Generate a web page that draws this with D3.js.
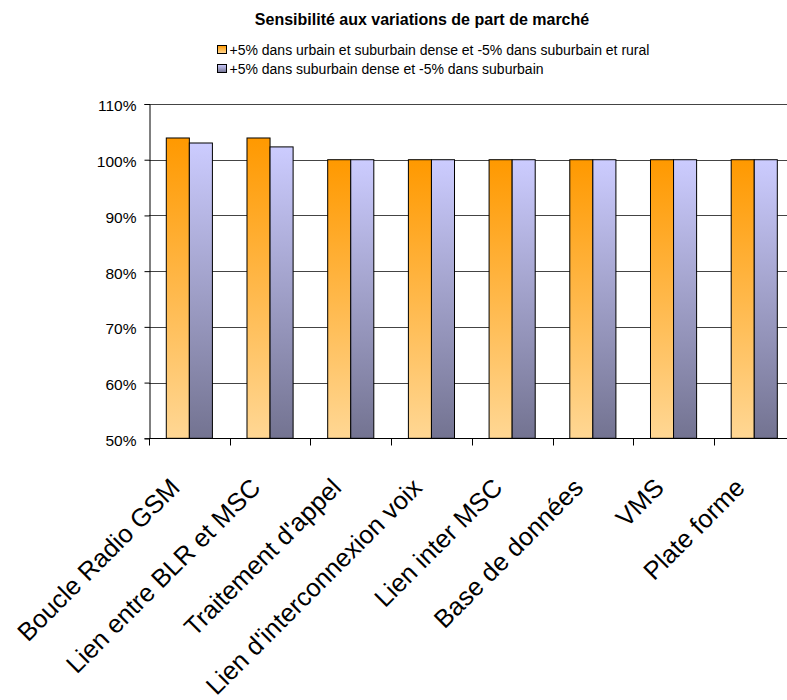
<!DOCTYPE html>
<html>
<head>
<meta charset="utf-8">
<script src="https://cdn.jsdelivr.net/npm/d3@7"></script>
<style>
  html, body { margin: 0; padding: 0; background: #fff; overflow: hidden; }
  svg { display: block; font-family: Arial, "Liberation Sans", sans-serif; }
</style>
</head>
<body>
<svg id="chart" width="787" height="700"></svg>
<script>
// Categories of the network cost model
const categories = [
  "Boucle Radio GSM",
  "Lien entre BLR et MSC",
  "Traitement d'appel",
  "Lien d'interconnexion voix",
  "Lien inter MSC",
  "Base de données",
  "VMS",
  "Plate forme"
];

// Series names
const seriesNames = [
  "+5% dans urbain et suburbain dense et -5% dans suburbain et rural",
  "+5% dans suburbain dense et -5% dans suburbain"
];

// Relative cost for each scenario (1 = 100%)
const seriesUrbain = [1.039, 1.039, 1.0, 1.0, 1.0, 1.0, 1.0, 1.0];
const seriesSuburbain = [1.030, 1.023, 1.0, 1.0, 1.0, 1.0, 1.0, 1.0];

// Y axis ticks
const yTicks = [0.5, 0.6, 0.7, 0.8, 0.9, 1.0, 1.1];

const title = "Sensibilité aux variations de part de marché";

const svg = d3.select("#chart");

const plot = { left: 149, right: 794.6, top: 104, bottom: 438.3 };

const x = d3.scaleBand()
  .domain(categories)
  .range([plot.left, plot.right])
  .paddingInner(0)
  .paddingOuter(0);

// two bars per band with a 150% gap width
const barW = x.bandwidth() / 3.5;
const xs = d3.scaleBand()
  .domain([0, 1])
  .range([x.bandwidth() * 0.75 / 3.5, x.bandwidth() * 0.75 / 3.5 + 2 * barW]);

const y = d3.scaleLinear().domain([0.5, 1.1]).range([plot.bottom, plot.top]);

// vertical gradients for the two series
const defs = svg.append("defs");
const gOrange = defs.append("linearGradient").attr("id", "gradOrange")
  .attr("x1", 0).attr("y1", 0).attr("x2", 0).attr("y2", 1);
gOrange.append("stop").attr("offset", "0%").attr("stop-color", "#ff9900");
gOrange.append("stop").attr("offset", "100%").attr("stop-color", "#ffd794");
const gBlue = defs.append("linearGradient").attr("id", "gradBlue")
  .attr("x1", 0).attr("y1", 0).attr("x2", 0).attr("y2", 1);
gBlue.append("stop").attr("offset", "0%").attr("stop-color", "#ccccff");
gBlue.append("stop").attr("offset", "100%").attr("stop-color", "#737391");

const fills = ["url(#gradOrange)", "url(#gradBlue)"];

// horizontal gridlines
svg.append("g")
  .selectAll("line")
  .data(yTicks.filter(d => d > 0.5))
  .join("line")
  .attr("x1", plot.left).attr("x2", plot.right)
  .attr("y1", d => Math.round(y(d)) + 0.5).attr("y2", d => Math.round(y(d)) + 0.5)
  .attr("stroke", "#444").attr("stroke-width", 1);

// bars
const series = [seriesUrbain, seriesSuburbain];
const groups = svg.append("g").selectAll("g")
  .data(categories)
  .join("g")
  .attr("transform", d => `translate(${x(d)},0)`);

groups.selectAll("rect")
  .data((d, i) => series.map((s, k) => ({ k, v: s[i] })))
  .join("rect")
  .attr("x", d => xs(d.k))
  .attr("width", barW)
  .attr("y", d => y(d.v))
  .attr("height", d => y(0.5) - y(d.v))
  .attr("fill", d => fills[d.k])
  .attr("stroke", "#000")
  .attr("stroke-width", 1);

// y axis
const yAxis = d3.axisLeft(y)
  .tickValues(yTicks)
  .tickFormat(d => Math.round(d * 100) + "%")
  .tickSize(5)
  .tickPadding(8);
const yg = svg.append("g")
  .attr("transform", `translate(${plot.left + 0.5},0)`)
  .call(yAxis);
yg.select(".domain").attr("stroke", "#000");
yg.selectAll(".tick line").attr("stroke", "#000");
yg.selectAll(".tick text")
  .attr("font-size", 15.5).attr("fill", "#000").attr("dy", "0.45em")
  .attr("font-family", "Arial, 'Liberation Sans', sans-serif");

// x axis baseline and ticks between categories
const xg = svg.append("g").attr("transform", `translate(0,${Math.round(plot.bottom) + 0.5})`);
xg.append("line")
  .attr("x1", plot.left).attr("x2", plot.right)
  .attr("stroke", "#000");
xg.selectAll("line.tk")
  .data(categories)
  .join("line")
  .attr("class", "tk")
  .attr("x1", d => Math.round(x(d)) + 0.5).attr("x2", d => Math.round(x(d)) + 0.5)
  .attr("y1", 0).attr("y2", 7)
  .attr("stroke", "#000");

// category labels, rotated
svg.append("g").selectAll("text")
  .data(categories)
  .join("text")
  .attr("transform", d => `translate(${x(d) + x.bandwidth() / 2 - 8},${plot.bottom + 51}) rotate(-45)`)
  .attr("text-anchor", "end")
  .attr("font-size", 25.5)
  .attr("fill", "#000")
  .text(d => d);

// title
svg.append("text")
  .attr("x", 422).attr("y", 25)
  .attr("text-anchor", "middle")
  .attr("font-size", 16).attr("font-weight", "bold")
  .text(title);

// legend
const legend = svg.append("g").selectAll("g")
  .data(seriesNames)
  .join("g")
  .attr("transform", (d, i) => `translate(217.5,${45.5 + i * 19})`);
legend.append("rect")
  .attr("width", 9).attr("height", 8)
  .attr("fill", (d, i) => fills[i])
  .attr("stroke", "#000");
legend.append("text")
  .attr("x", 12).attr("y", 9)
  .attr("font-size", 14)
  .text(d => d);
</script>
</body>
</html>
